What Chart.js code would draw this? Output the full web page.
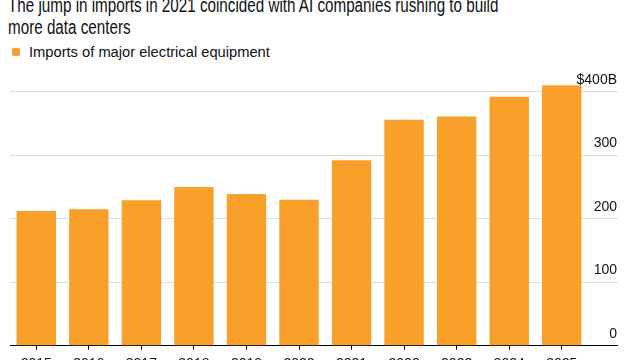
<!DOCTYPE html>
<html>
<head>
<meta charset="utf-8">
<script src="https://cdn.jsdelivr.net/npm/chart.js@4.4.1/dist/chart.umd.min.js"></script>
<style>
  html, body { margin: 0; padding: 0; background: #fff; }
  body { width: 640px; height: 360px; overflow: hidden; position: relative; font-family: "Liberation Sans", Arial, sans-serif; }
  #title { position: absolute; left: 8px; top: -5px; width: 800px; font-size: 19.5px; line-height: 21.5px; color: #111; transform: scaleX(0.78); transform-origin: left top; }
  #legend { position: absolute; left: 12px; top: 44px; font-size: 14.7px; color: #111; display: flex; align-items: center; }
  #legend i { display: inline-block; width: 8px; height: 8px; border-radius: 2px; background: #f9a02b; margin-right: 9px; }
  #wrap { position: absolute; left: 0; top: 70px; width: 640px; height: 310px; }
</style>
</head>
<body>
<div id="title">The jump in imports in 2021 coincided with AI companies rushing to build<br>more data centers</div>
<div id="legend"><i></i><span>Imports of major electrical equipment</span></div>
<div id="wrap"><canvas id="c"></canvas></div>
<script>
  // Imports of major electrical equipment, $B
  const years = ["2015", "2016", "2017", "2018", "2019", "2020", "2021", "2022", "2023", "2024", "2025"];
  const imports = [212, 215, 229, 250, 239, 230, 292, 356, 361, 392, 410];
  const yTicks = [0, 100, 200, 300, 400];

  const ORANGE = "#f9a02b";
  const GRID = "#dcdcdc";

  new Chart(document.getElementById("c"), {
    type: "bar",
    data: {
      labels: years,
      datasets: [{ label: "Imports of major electrical equipment", data: imports, backgroundColor: ORANGE, borderWidth: 0, barPercentage: 0.75, categoryPercentage: 1 }]
    },
    options: {
      responsive: true, maintainAspectRatio: false, animation: false,
      layout: { padding: { left: 10, right: 0, top: 0, bottom: 0 } },
      plugins: { legend: { display: false }, tooltip: { enabled: false } },
      scales: {
        x: {
          grid: { offset: false, drawOnChartArea: false, drawTicks: true, tickLength: 4, color: "#000" },
          border: { display: true, color: "#000", width: 1 },
          ticks: { color: "#111", font: { family: "Liberation Sans", size: 14 }, padding: 6, maxRotation: 0, autoSkip: false },
          afterFit: (s) => { s.height = 34.3; s.paddingLeft = 0; s.paddingRight = 0; }
        },
        y: {
          position: "right", min: 0, max: 434.2,
          afterBuildTicks: (s) => { s.ticks = yTicks.map((v) => ({ value: v })); },
          grid: { drawTicks: true, tickLength: 30, color: (c) => (c.tick && c.tick.value === 0 ? "#000" : GRID), lineWidth: 1 },
          border: { display: false },
          ticks: {
            mirror: true, padding: 29, labelOffset: -12, color: "#111",
            font: { family: "Liberation Sans", size: 14 },
            callback: (v) => (v === 400 ? "$400B" : String(v))
          },
          afterFit: (s) => { s.width = 52; s.paddingTop = 0; s.paddingBottom = 0; }
        }
      }
    }
  });
</script>
</body>
</html>
